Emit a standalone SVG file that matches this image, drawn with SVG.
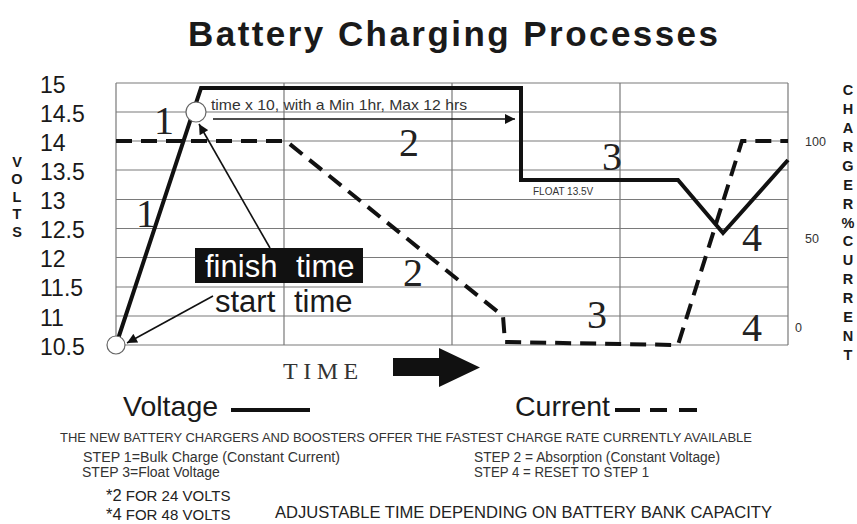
<svg xmlns="http://www.w3.org/2000/svg" width="857" height="524" viewBox="0 0 857 524">
<defs>
<style>
.grid{stroke:#7a7a7a;stroke-width:1.2;fill:none}
.sans{font-family:"Liberation Sans",Arial,sans-serif;fill:#1a1a1a}
.serif{font-family:"Liberation Serif","Times New Roman",serif;fill:#222}
.ylab{font-size:23px}
.step{font-size:40px}
.vert{font-size:14.5px;font-weight:bold;text-anchor:middle}
.small{font-size:12.5px}
.volt{stroke:#111;stroke-width:4;fill:none;stroke-linejoin:miter}
.curr{stroke:#111;stroke-width:4;fill:none;stroke-dasharray:16 9}
.thin{stroke:#111;stroke-width:1.6;fill:none}
.note{font-size:14px}
</style>
<marker id="ah2" viewBox="0 0 10 10" refX="10" refY="5" markerWidth="12" markerHeight="10" markerUnits="userSpaceOnUse" orient="auto">
<path d="M0,0 L10,5 L0,10 z" fill="#111"/>
</marker>
</defs>
<rect width="857" height="524" fill="#fff"/>

<text class="sans" x="188" y="46" font-size="35" font-weight="bold" textLength="530" lengthAdjust="spacing">Battery Charging Processes</text>

<g id="grid">
<path class="grid" d="M116,83H788M116,112H788M116,141H788M116,170H788M116,199.5H788M116,228.5H788M116,257.5H788M116,287H788M116,316H788M116,345H788"/>
<path class="grid" d="M116,83V345M284,83V345M452,83V345M620,83V345M788,83V345"/>
</g>

<g id="y-axis" class="sans ylab">
<text x="40" y="93">15</text>
<text x="40" y="122">14.5</text>
<text x="40" y="151">14</text>
<text x="40" y="180">13.5</text>
<text x="40" y="209">13</text>
<text x="40" y="238">12.5</text>
<text x="40" y="267">12</text>
<text x="40" y="296">11.5</text>
<text x="40" y="326">11</text>
<text x="40" y="355">10.5</text>
</g>
<text class="sans vert" x="17 17 17 17 17" y="167 184 202 219 237">VOLTS</text>

<g id="y2-axis" class="sans small" style="fill:#333">
<text x="805" y="146">100</text>
<text x="805" y="243">50</text>
<text x="795" y="332">0</text>
</g>
<text class="sans vert" x="848 848 848 848 848 848 848 848 848 848 848 848 848 848 848" y="95 114 133 152 171 190 209 228 246 265 284 303 322 341 360">CHARGER%CURRENT</text>

<g id="connectors">
<polyline id="voltage-curve" class="volt" points="116,345 201,88 521,88 521,180 678,180 723,233 788,160"/>
<polyline id="current-curve" class="curr" points="116,141 286,141 503,316 505,342 678,345 742,141 788,141"/>
<line class="thin" x1="213" y1="119" x2="515" y2="119" marker-end="url(#ah2)"/>
<line class="thin" x1="270" y1="248" x2="199" y2="124" marker-end="url(#ah2)"/>
<line class="thin" x1="213" y1="296" x2="127" y2="343" marker-end="url(#ah2)"/>
</g>

<g id="start-node">
<circle cx="116" cy="345" r="9" fill="#fff" stroke="#666" stroke-width="1.2"/>
</g>
<g id="finish-node">
<circle cx="196" cy="112" r="10" fill="#fff" stroke="#666" stroke-width="1.2"/>
</g>

<text class="sans" x="211" y="110" font-size="14.5" style="fill:#333" textLength="256" lengthAdjust="spacingAndGlyphs">time x 10, with a Min 1hr, Max 12 hrs</text>
<text class="sans" x="533" y="195" font-size="10" style="fill:#333">FLOAT 13.5V</text>

<g id="step-labels" class="serif step" text-anchor="middle">
<text x="164" y="134">1</text>
<text x="146" y="227">1</text>
<text x="409" y="156">2</text>
<text x="413" y="286">2</text>
<text x="612" y="170">3</text>
<text x="597" y="328">3</text>
<text x="752" y="251">4</text>
<text x="752" y="341">4</text>
</g>

<g id="finish-label">
<rect x="195" y="248" width="168" height="35" fill="#111"/>
<text class="sans" x="205" y="277" font-size="31" style="fill:#fff" word-spacing="10">finish time</text>
</g>
<g id="start-label">
<text class="sans" x="215" y="312" font-size="31" word-spacing="10">start time</text>
</g>

<g id="time-axis">
<text class="serif" x="283" y="379" font-size="24" letter-spacing="5.5" style="fill:#333">TIME</text>
<path d="M393,358H439V348L480,367.5L439,387V376H393z" fill="#111"/>
</g>

<g id="legend">
<text class="sans" x="123" y="416" font-size="28.5">Voltage</text>
<line x1="231" y1="410" x2="310" y2="410" stroke="#111" stroke-width="4"/>
<text class="sans" x="515" y="416" font-size="28.5">Current</text>
<path d="M615,410H640M650,410H667M679,410H697" stroke="#111" stroke-width="4"/>
</g>

<g id="notes" class="sans note" style="fill:#333">
<text x="60" y="442" font-size="13.5" textLength="692" lengthAdjust="spacingAndGlyphs">THE NEW BATTERY CHARGERS AND BOOSTERS OFFER THE FASTEST CHARGE RATE CURRENTLY AVAILABLE</text>
<text x="83" y="462" textLength="257" lengthAdjust="spacingAndGlyphs">STEP 1=Bulk Charge (Constant Current)</text>
<text x="82" y="477">STEP 3=Float Voltage</text>
<text x="474" y="462" textLength="246" lengthAdjust="spacingAndGlyphs">STEP 2 = Absorption (Constant Voltage)</text>
<text x="474" y="477" textLength="175" lengthAdjust="spacingAndGlyphs">STEP 4 = RESET TO STEP 1</text>
</g>
<g id="footer" class="sans" style="fill:#222">
<text x="106" y="501" font-size="15"><tspan font-size="16.5">*2</tspan> FOR 24 VOLTS</text>
<text x="106" y="520" font-size="15"><tspan font-size="16.5">*4</tspan> FOR 48 VOLTS</text>
<text x="275" y="518" font-size="16.5" textLength="497" lengthAdjust="spacingAndGlyphs">ADJUSTABLE TIME DEPENDING ON BATTERY BANK CAPACITY</text>
</g>
</svg>
